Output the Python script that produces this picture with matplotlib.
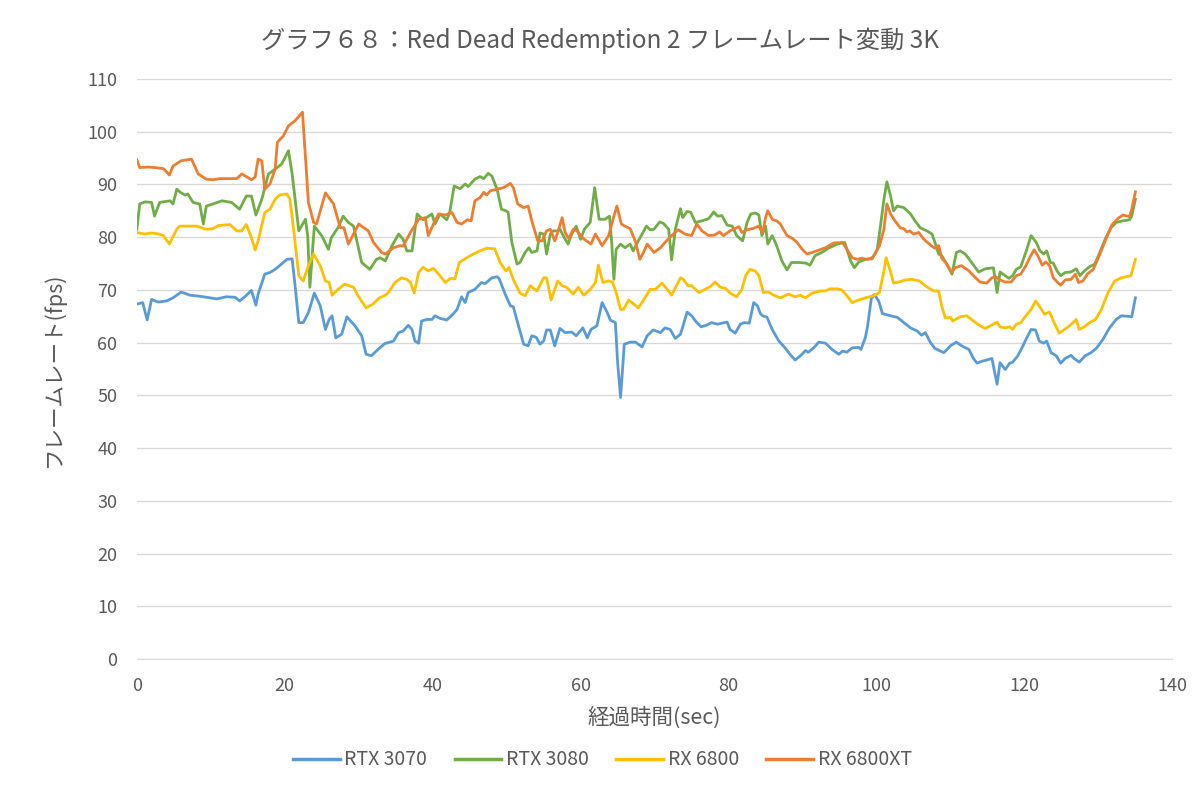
import matplotlib
matplotlib.use('Agg')
import matplotlib.pyplot as plt
from matplotlib.lines import Line2D

plt.rcParams['font.family'] = ['Noto Sans CJK JP', 'DejaVu Sans']

# RTX 3070
t_3070 = [0, 0.8, 1.4, 2, 2.9, 4, 4.9, 6, 7.2, 8.5, 9.9, 10.8, 12.1, 13.3, 13.9, 14.6, 15.5, 16.1, 16.4,
          17.3, 18, 18.7, 19.3, 20.3, 21, 21.4, 21.9, 22.5, 23.2, 24, 24.8, 25.5, 26, 26.4, 26.9, 27.7, 28.4,
          29.5, 30.4, 31, 31.7, 32.6, 33.5, 34.7, 35.4, 36, 36.7, 37.2, 37.6, 38.1, 38.5, 39.2, 39.9, 40.3,
          41, 41.9, 42.6, 43.3, 43.9, 44.4, 44.8, 45.7, 46.6, 47.1, 48, 48.7, 49, 49.8, 50.5, 50.9, 51.6,
          52.3, 52.9, 53.4, 54, 54.5, 55, 55.4, 55.9, 56.5, 57.2, 57.9, 58.8, 59.4, 60.3, 60.9, 61.4, 62.2,
          62.9, 63.6, 64, 64.7, 65, 65.4, 65.9, 66.7, 67.4, 68.3, 69, 69.8, 70.8, 71.4, 72.1, 72.8, 73.5,
          74.4, 75, 75.7, 76.3, 77, 77.7, 78.5, 79.1, 79.8, 80.2, 80.9, 81.6, 82.1, 82.8, 83.4, 83.9, 84.3,
          84.6, 85.2, 85.9, 86.8, 87.7, 88.3, 89, 89.7, 90.4, 90.8, 91.5, 92.2, 93.1, 94, 94.9, 95.4, 96,
          96.7, 97.6, 97.9, 98.5, 98.8, 99.3, 99.7, 100.3, 100.8, 101.9, 102.8, 103.7, 104.6, 105.5, 106.1,
          106.6, 107.3, 107.9, 109.1, 110, 110.8, 111.5, 112.5, 113.1, 113.6, 114.3, 114.9, 115.6, 116.3,
          116.7, 117.4, 118, 118.4, 119.1, 119.8, 120.3, 120.9, 121.5, 122, 122.6, 123, 123.6, 124.3, 124.9,
          125.5, 126.3, 126.7, 127.4, 128.2, 129, 129.7, 130.6, 131.5, 132.4, 133.1, 134, 134.5, 135]
fps_3070 = [67.3, 67.6, 64.3, 68.2, 67.7, 67.9, 68.5, 69.6, 69.0, 68.8, 68.5, 68.3, 68.7, 68.6, 67.9, 68.7,
            69.9, 67.1, 69.2, 73.0, 73.3, 73.9, 74.6, 75.8, 75.9, 70.8, 63.8, 63.8, 65.7, 69.4, 67.0, 62.5,
            64.4, 65.1, 60.9, 61.6, 64.9, 63.2, 61.3, 57.8, 57.5, 58.7, 59.8, 60.3, 61.9, 62.2, 63.3, 62.5,
            60.3, 59.9, 64.1, 64.4, 64.4, 65.1, 64.6, 64.3, 65.2, 66.3, 68.7, 67.6, 69.5, 70.1, 71.4, 71.2,
            72.3, 72.5, 72.1, 69.2, 67.0, 66.8, 63.2, 59.7, 59.4, 61.3, 61.0, 59.7, 60.3, 62.4, 62.4, 59.4,
            62.7, 61.9, 62.0, 61.3, 62.8, 60.9, 62.5, 63.2, 67.6, 65.7, 64.3, 63.8, 56.2, 49.6, 59.7, 60.1,
            60.1, 59.2, 61.3, 62.4, 61.9, 62.8, 62.5, 60.8, 61.6, 65.8, 65.1, 63.8, 63.0, 63.3, 63.8, 63.5,
            63.7, 63.9, 62.5, 61.8, 63.5, 63.8, 63.7, 67.6, 67.0, 65.5, 65.1, 64.8, 62.5, 60.3, 58.9, 57.8,
            56.7, 57.5, 58.5, 58.2, 59.0, 60.1, 59.9, 58.7, 57.8, 58.4, 58.2, 59.0, 59.1, 58.7, 61.0, 63.2,
            68.4, 69.1, 67.9, 65.5, 65.1, 64.8, 63.8, 62.8, 62.2, 61.4, 61.9, 60.0, 58.9, 58.1, 59.4, 60.1,
            59.4, 58.7, 57.0, 56.1, 56.5, 56.7, 57.0, 52.1, 56.2, 54.9, 56.1, 56.3, 57.5, 59.4, 60.9, 62.5,
            62.4, 60.3, 59.9, 60.3, 58.1, 57.5, 56.1, 57.0, 57.6, 57.0, 56.3, 57.5, 58.1, 58.9, 60.6, 62.8,
            64.4, 65.1, 65.0, 64.9, 68.5]

# RTX 3080
t_3080 = [0, 0.4, 1.1, 2, 2.4, 3.1, 4.5, 4.9, 5.4, 6, 6.5, 6.9, 7.6, 8.5, 9, 9.4, 10.3, 11.5, 12.8, 13.9,
          14.8, 15.5, 16.1, 16.9, 17.8, 18.7, 19.6, 20.5, 21, 21.9, 22.8, 23.1, 23.4, 24, 25, 25.9, 26.3,
          27.2, 27.9, 28.6, 29.3, 30.4, 31.5, 32.4, 32.9, 33.6, 34.5, 35.4, 36, 36.5, 37.2, 37.9, 38.7,
          39.9, 40.3, 41, 41.9, 42.3, 42.9, 43.7, 44.4, 44.8, 45.7, 46.4, 46.9, 47.5, 48, 48.7, 49.3, 49.9,
          50.2, 50.7, 51.4, 51.8, 52.5, 53, 53.4, 54.1, 54.5, 55, 55.4, 55.9, 56.3, 56.9, 57.2, 57.8, 58.3,
          58.8, 59.4, 60, 60.5, 61.3, 61.9, 62.5, 63.3, 63.9, 64.2, 64.5, 64.8, 65.4, 66, 66.7, 67.1, 67.8,
          68.9, 69.4, 69.9, 70.7, 71.2, 71.9, 72.3, 72.8, 73.5, 73.8, 74.4, 74.9, 75.5, 76.4, 77.3, 78, 78.5,
          79.1, 79.8, 80.5, 81.1, 81.9, 82.5, 83, 83.6, 84.1, 84.5, 85, 85.3, 85.9, 86.5, 87.2, 87.9, 88.5,
          89.5, 90.4, 91, 91.7, 92.6, 93.5, 94.7, 95.7, 96.5, 97, 97.6, 98.5, 99.4, 100.1, 100.6, 101,
          101.4, 101.9, 102.3, 102.8, 103.7, 104.6, 105.2, 105.9, 106.8, 107.5, 107.9, 108.4, 108.8, 109.5,
          110.2, 110.8, 111.3, 112, 112.7, 113.8, 114.7, 115.8, 116.3, 116.7, 117.4, 117.9, 118.4, 118.9,
          119.5, 120.2, 120.9, 121.6, 122.1, 122.6, 123, 123.5, 123.9, 124.4, 124.9, 125.5, 126.3, 127,
          127.5, 128.1, 128.8, 129.5, 130.1, 131, 131.7, 132.4, 133.3, 134.2, 134.5, 135]
fps_3080 = [81.5, 86.3, 86.7, 86.6, 84.0, 86.6, 86.9, 86.3, 89.1, 88.4, 88.0, 88.2, 86.6, 86.3, 82.5, 85.9,
            86.3, 86.9, 86.6, 85.3, 87.8, 87.8, 84.2, 87.2, 92.0, 92.9, 93.9, 96.4, 92.0, 81.2, 83.4, 80.3,
            70.5, 82.1, 80.3, 77.7, 79.9, 81.8, 84.0, 82.8, 82.1, 75.2, 73.9, 75.8, 76.1, 75.5, 78.4, 80.6,
            79.6, 77.4, 77.4, 84.4, 83.3, 84.4, 82.5, 84.4, 83.3, 84.7, 89.7, 89.2, 90.1, 89.6, 91.0, 91.5,
            91.1, 92.1, 91.6, 89.1, 85.3, 85.0, 84.7, 79.0, 74.9, 75.2, 77.1, 78.0, 77.1, 77.4, 80.8, 80.6,
            76.8, 80.6, 81.2, 81.2, 81.5, 79.9, 78.7, 80.6, 82.1, 79.6, 81.5, 82.8, 89.4, 83.4, 83.4, 84.0,
            79.0, 72.0, 77.7, 78.7, 78.0, 78.7, 77.4, 79.3, 82.1, 81.4, 81.5, 82.9, 82.6, 81.5, 75.7, 81.5,
            85.4, 83.7, 84.9, 84.7, 82.8, 83.1, 83.5, 84.8, 84.0, 84.1, 82.3, 82.1, 80.3, 79.3, 82.8, 84.4,
            84.6, 84.2, 80.3, 82.1, 78.7, 80.3, 78.4, 75.5, 73.8, 75.2, 75.2, 75.1, 74.7, 76.5, 77.1, 77.9,
            78.7, 79.0, 75.5, 74.2, 75.3, 75.8, 75.9, 77.7, 82.8, 87.2, 90.5, 87.8, 85.0, 85.9, 85.6, 84.4,
            83.1, 81.8, 81.2, 80.6, 79.0, 76.8, 76.5, 74.9, 73.0, 77.1, 77.4, 76.8, 75.5, 73.4, 74.0, 74.2,
            69.5, 73.4, 72.7, 72.2, 72.7, 73.9, 74.4, 77.2, 80.3, 79.0, 77.4, 76.8, 77.4, 75.2, 75.1, 73.6,
            72.7, 73.3, 73.4, 74.0, 72.7, 73.6, 74.4, 74.9, 76.8, 79.9, 81.8, 82.8, 83.1, 83.3, 84.0, 87.2]

# RX 6800
t_6800 = [0, 1, 2, 3, 3.6, 4.4, 5.4, 5.8, 8.1, 9.4, 10.3, 11, 12.6, 13.5, 14.2, 14.8, 15.4, 16, 16.4, 17.3,
          18, 18.7, 19.3, 20.3, 20.7, 21.3, 21.9, 22.5, 23.2, 23.9, 24.8, 25.5, 26, 26.4, 27.2, 28.1, 29.3,
          29.9, 31, 31.9, 32.8, 33.6, 34, 34.9, 35.8, 36.5, 37, 37.5, 38.1, 38.7, 39.4, 40.1, 40.8, 41.7,
          42.4, 43, 43.6, 44.6, 45.5, 46.4, 47.3, 48.4, 49.1, 49.9, 50.3, 50.9, 51.8, 52.5, 53.2, 54.1, 55,
          55.4, 56, 56.9, 57.5, 58.1, 59, 59.7, 60.4, 61.3, 62, 62.4, 63, 63.8, 64.3, 64.8, 65.4, 65.8, 66.5,
          67.8, 68.7, 69.4, 70.1, 71, 71.7, 72.3, 73.5, 73.9, 74.5, 75, 76, 76.8, 77.5, 78.2, 78.9, 79.6,
          80.2, 81.1, 81.8, 82.3, 82.9, 83.6, 84.1, 84.7, 85.4, 86.1, 87, 88.1, 89, 89.7, 90.4, 91.3, 92.4,
          93.1, 93.7, 94.7, 95.3, 96, 96.7, 97.6, 98.5, 99.6, 100.4, 101, 101.3, 101.9, 102.3, 103, 103.9,
          104.8, 105.8, 106.6, 107.7, 108.4, 108.8, 109.3, 110, 110.3, 111.3, 112.2, 113.1, 114, 114.7,
          115.4, 116.3, 116.7, 117.4, 118, 118.4, 118.9, 119.5, 120.2, 120.9, 121.5, 122, 122.7, 123.4, 124,
          124.7, 125.4, 126.1, 127, 127.4, 128.1, 128.8, 129.6, 130.4, 131.3, 132.2, 133.1, 134.4, 135]
fps_6800 = [80.9, 80.6, 80.8, 80.6, 80.3, 78.7, 81.5, 82.1, 82.1, 81.5, 81.6, 82.2, 82.4, 81.2, 81.2, 82.4,
            80.3, 77.6, 79.3, 84.7, 85.3, 87.2, 88.0, 88.2, 87.2, 80.3, 72.7, 71.7, 74.6, 76.8, 74.6, 71.7,
            71.4, 69.0, 70.1, 71.1, 70.5, 68.9, 66.6, 67.3, 68.5, 69.0, 69.5, 71.4, 72.3, 72.0, 71.4, 69.4,
            73.3, 74.3, 73.6, 74.1, 73.0, 71.4, 72.2, 72.1, 75.2, 76.1, 76.8, 77.4, 77.9, 77.8, 75.2, 73.6,
            74.3, 72.0, 69.4, 68.9, 70.8, 69.8, 72.3, 72.3, 68.1, 71.7, 70.8, 70.5, 69.2, 70.5, 69.0, 70.1,
            71.4, 74.7, 71.4, 71.7, 71.5, 69.5, 66.3, 66.3, 68.1, 66.6, 68.5, 70.1, 70.1, 71.3, 70.1, 69.0,
            72.3, 72.0, 70.8, 70.8, 69.5, 70.1, 70.6, 71.5, 70.5, 70.3, 69.4, 68.7, 70.1, 72.7, 73.9, 73.6,
            72.7, 69.5, 69.6, 69.0, 68.5, 69.2, 68.7, 69.0, 68.5, 69.4, 69.8, 69.8, 70.2, 70.2, 70.0, 68.9,
            67.6, 68.1, 68.5, 68.9, 69.5, 73.6, 76.1, 73.4, 71.3, 71.5, 71.9, 72.0, 71.7, 70.8, 69.8, 69.8,
            67.0, 64.7, 64.8, 64.1, 64.9, 65.1, 64.1, 63.2, 62.7, 63.2, 63.9, 63.0, 62.8, 63.0, 62.5, 63.5,
            63.8, 65.1, 66.3, 67.9, 67.0, 65.4, 65.8, 63.8, 61.8, 62.5, 63.2, 64.4, 62.5, 63.0, 63.8, 64.4,
            66.3, 69.5, 71.7, 72.3, 72.7, 75.8]

# RX 6800XT
t_6800xt = [0, 0.4, 1.5, 2.5, 3.6, 4.4, 4.9, 6, 7.4, 8.3, 9.4, 10.3, 11.2, 13.5, 14.2, 15.5, 16, 16.4, 16.9,
            17.3, 18, 18.7, 19, 19.8, 20.5, 21.4, 22.4, 23.2, 23.9, 24.3, 25.5, 26.6, 27.5, 28, 28.6, 30,
            31.3, 32, 33.1, 33.6, 34.7, 35.6, 36, 37, 38.1, 39, 39.4, 40.1, 40.8, 41.7, 42.6, 43.3, 43.9,
            44.7, 45.2, 45.7, 46.4, 46.9, 47.3, 47.8, 48.7, 49.6, 50.5, 50.9, 51.5, 52.3, 52.9, 53.4, 54.2,
            54.8, 55.4, 55.9, 56.5, 56.9, 57.5, 57.9, 58.4, 59, 59.5, 60.4, 61.4, 62, 62.9, 63.8, 64.2, 64.9,
            65.5, 66, 66.7, 67.4, 68, 68.5, 69, 69.9, 70.8, 71.6, 72.3, 73.2, 74.1, 75, 75.7, 76.4, 77.3, 78.1,
            78.8, 79.3, 80.2, 81.4, 81.8, 82.5, 83.4, 84.1, 84.6, 85, 85.3, 85.9, 86.5, 87, 87.9, 88.6, 89.2,
            89.9, 90.6, 91.3, 91.9, 93.1, 94.2, 95.4, 96, 96.7, 97.4, 98, 98.7, 99.4, 99.8, 100.4, 101, 101.4,
            101.9, 102.5, 103.2, 103.7, 104.1, 104.5, 105, 105.7, 106.4, 107.3, 107.9, 108.4, 108.8, 109.5,
            110.2, 110.6, 111.5, 112.5, 113.1, 114, 114.9, 115.6, 116.1, 116.7, 117.4, 118.2, 118.9, 119.5,
            120.2, 120.7, 121.3, 121.8, 122.4, 122.9, 123.4, 123.9, 124.5, 124.9, 125.5, 126.3, 126.9,
            127.3, 127.9, 128.5, 129.3, 130.1, 131, 131.8, 132.6, 133.3, 134.2, 134.5, 135]
fps_6800xt = [94.7, 93.2, 93.3, 93.2, 93.0, 91.8, 93.5, 94.5, 94.8, 92.0, 91.0, 90.9, 91.1, 91.1, 92.0, 90.9,
              91.4, 94.8, 94.5, 89.1, 90.1, 92.9, 98.0, 99.2, 101.1, 102.1, 103.7, 86.6, 82.8, 82.5, 88.4,
              86.3, 81.8, 81.8, 78.7, 82.5, 81.2, 79.0, 77.1, 76.8, 78.0, 78.4, 78.3, 80.9, 83.4, 83.7, 80.3,
              82.5, 84.4, 84.2, 84.7, 82.8, 82.5, 83.3, 83.1, 86.9, 87.5, 88.5, 88.0, 88.8, 89.1, 89.4, 90.2,
              89.4, 86.3, 85.6, 85.9, 83.1, 79.3, 79.3, 81.2, 81.5, 79.3, 80.9, 83.7, 80.9, 79.7, 81.5, 81.2,
              79.7, 78.7, 80.6, 78.4, 80.3, 82.5, 85.9, 82.5, 82.1, 81.6, 79.2, 75.8, 77.1, 78.7, 77.1, 78.0,
              79.3, 80.3, 81.4, 80.6, 80.3, 82.5, 81.2, 80.3, 80.4, 81.0, 80.3, 81.2, 82.0, 80.9, 81.4, 81.7,
              82.1, 80.8, 83.7, 85.0, 83.4, 83.1, 82.5, 80.3, 79.8, 79.1, 77.8, 76.8, 77.1, 77.4, 78.0, 78.9,
              79.0, 77.7, 76.1, 75.8, 76.0, 75.8, 76.1, 76.8, 78.4, 81.5, 86.3, 84.4, 83.1, 81.8, 81.6, 81.0,
              81.2, 80.6, 80.9, 79.6, 78.5, 77.9, 78.4, 76.1, 74.9, 73.3, 74.2, 74.6, 73.6, 72.7, 71.5, 71.3,
              72.3, 72.5, 71.9, 71.5, 71.5, 72.7, 73.0, 74.6, 76.1, 77.6, 76.5, 74.7, 75.3, 74.6, 72.3, 71.4,
              70.9, 71.9, 72.0, 73.0, 71.4, 71.7, 73.0, 73.9, 76.5, 79.6, 82.3, 83.5, 84.2, 83.9, 85.3, 88.6]

series = [
    ('RTX 3070', t_3070, fps_3070, '#5B9BD5'),
    ('RTX 3080', t_3080, fps_3080, '#70AD47'),
    ('RX 6800', t_6800, fps_6800, '#FFC000'),
    ('RX 6800XT', t_6800xt, fps_6800xt, '#ED7D31'),
]

text_color = '#595959'

fig = plt.figure(figsize=(12, 7.94), dpi=100)
ax = fig.add_axes([0.114, 0.17, 0.863, 0.7305])

for name, t, v, c in series:
    ax.plot(t, v, color=c, linewidth=2.0, label=name, solid_joinstyle='round')

ax.set_xlim(0, 140)
ax.set_ylim(0, 110)
ax.set_xticks(range(0, 141, 20))
ax.set_yticks(range(0, 111, 10))
ax.grid(axis='y', color='#D9D9D9', linewidth=1)
ax.set_axisbelow(True)
for s in ['top', 'right', 'left']:
    ax.spines[s].set_visible(False)
ax.spines['bottom'].set_color('#D9D9D9')
ax.tick_params(length=0, labelsize=13, colors=text_color)
ax.tick_params(axis='y', pad=14)
ax.tick_params(axis='x', pad=13)

ax.set_xlabel('経過時間(sec)', fontsize=15.5, color=text_color, labelpad=8)
ax.set_ylabel('フレームレート(fps)', fontsize=15.5, color=text_color, labelpad=16)
fig.text(0.5, 0.949, 'グラフ６８：Red Dead Redemption 2 フレームレート変動 3K',
         ha='center', va='center', fontsize=17.5, color=text_color)

handles = [Line2D([0], [0], color=c, linewidth=2.5) for _, _, _, c in series]
fig.legend(handles, [s[0] for s in series], loc='center', bbox_to_anchor=(0.502, 0.043), ncol=4,
           frameon=False, fontsize=14, labelcolor=text_color, handlelength=2.4, handletextpad=0.25,
           columnspacing=1.4)

fig.savefig('out.png', dpi=100)
